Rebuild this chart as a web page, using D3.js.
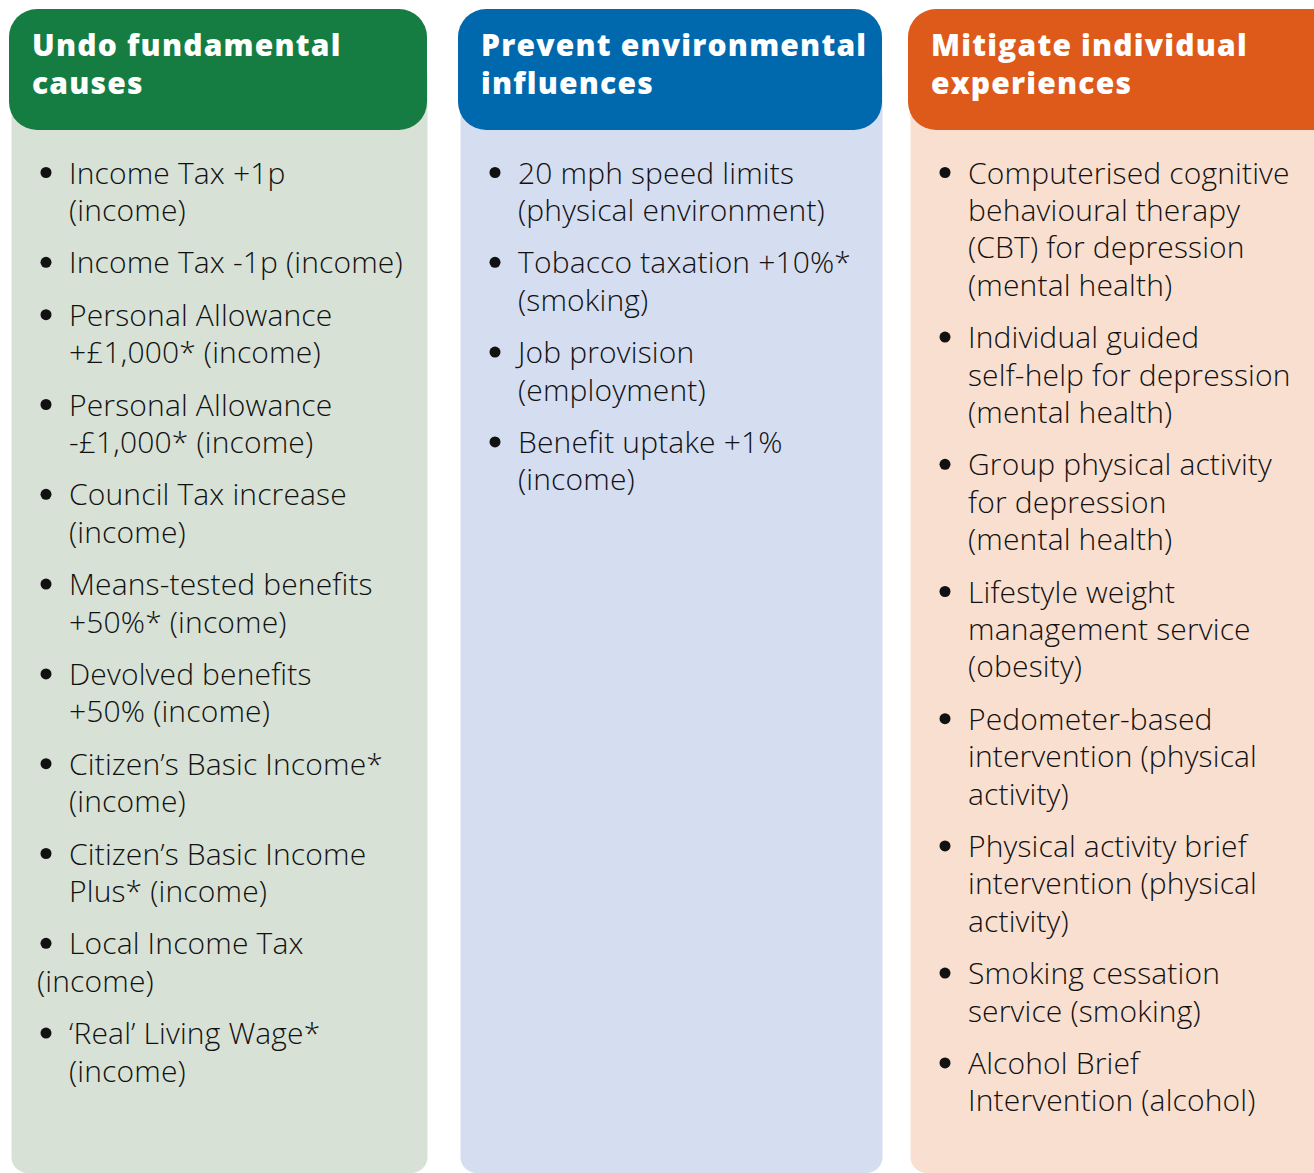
<!DOCTYPE html>
<html>
<head>
<meta charset="utf-8">
<script src="https://cdn.jsdelivr.net/npm/d3@7"></script>
<style>
  html, body { margin: 0; padding: 0; background: #fff; }
  svg { display: block; }
  .head { font-family: "Open Sans", sans-serif; font-weight: 800; fill: #fff; font-size: 30px; letter-spacing: 1.2px; }
  .item { font-family: "Open Sans", sans-serif; font-weight: 300; fill: #111; font-size: 30px; letter-spacing: 0.15px; }
</style>
</head>
<body>
<div id="chart"></div>
<script>
(function (d3) {
    'use strict';

    // Column titles (already wrapped as in the source)
    var titles = [
        ['Undo fundamental', 'causes'],
        ['Prevent environmental', 'influences'],
        ['Mitigate individual', 'experiences']
    ];

    var headColors = ['#167d42', '#0069ad', '#dd5a1a'];
    var bodyColors = ['#d7e1d6', '#d5ddf0', '#f9dfcf'];

    // Each item is a list of wrapped lines; "flush" lines start at the bullet edge
    var fundamental = [
        ['Income Tax +1p', '(income)'],
        ['Income Tax -1p (income)'],
        ['Personal Allowance', '+£1,000* (income)'],
        ['Personal Allowance', '-£1,000* (income)'],
        ['Council Tax increase', '(income)'],
        ['Means-tested benefits', '+50%* (income)'],
        ['Devolved benefits', '+50% (income)'],
        ['Citizen’s Basic Income*', '(income)'],
        ['Citizen’s Basic Income', 'Plus* (income)'],
        ['Local Income Tax', {flush: '(income)'}],
        ['‘Real’ Living Wage*', '(income)']
    ];

    var environmental = [
        ['20 mph speed limits', '(physical environment)'],
        ['Tobacco taxation +10%*', '(smoking)'],
        ['Job provision', '(employment)'],
        ['Benefit uptake +1%', '(income)']
    ];

    var individual = [
        ['Computerised cognitive', 'behavioural therapy', '(CBT) for depression', '(mental health)'],
        ['Individual guided', 'self-help for depression', '(mental health)'],
        ['Group physical activity', 'for depression', '(mental health)'],
        ['Lifestyle weight', 'management service', '(obesity)'],
        ['Pedometer-based', 'intervention (physical', 'activity)'],
        ['Physical activity brief', 'intervention (physical', 'activity)'],
        ['Smoking cessation', 'service (smoking)'],
        ['Alcohol Brief', 'Intervention (alcohol)']
    ];

    var columns = [fundamental, environmental, individual];

    var width = 1314, height = 1173;

    var svg = d3.select('#chart').append('svg')
        .attr('width', width)
        .attr('height', height)
    ;

    // Column frames: left edge of header and its width
    var frames = [
        {x: 9, w: 418},
        {x: 458, w: 424},
        {x: 908, w: 440}
    ];

    var lineStep = 37.4;
    var itemGap = 52.4;
    var firstBaseline = 183.5;

    frames.forEach(function (f, ci) {
        var g = svg.append('g').attr('transform', translate(f.x, 0));

        // body panel
        g.append('rect')
            .attr('x', 2.5)
            .attr('y', 60)
            .attr('width', f.w - 2)
            .attr('height', height - 60)
            .attr('rx', 16)
            .attr('fill', bodyColors[ci])
        ;

        // header
        g.append('rect')
            .attr('x', 0)
            .attr('y', 9)
            .attr('width', f.w)
            .attr('height', 121)
            .attr('rx', 28)
            .attr('fill', headColors[ci])
        ;

        g.selectAll('.head')
            .data(titles[ci])
            .enter()
            .append('text')
            .attr('class', 'head')
            .attr('x', 23)
            .attr('y', function (d, i) { return 56 + i * 37.5; })
            .text(function (d) { return d; })
        ;

        // list items
        var y = firstBaseline;
        columns[ci].forEach(function (lines) {
            var item = g.append('g');
            item.append('circle')
                .attr('cx', 37)
                .attr('cy', y - 11)
                .attr('r', 5.5)
                .attr('fill', '#111')
            ;
            lines.forEach(function (line, li) {
                var flush = typeof line === 'object';
                item.append('text')
                    .attr('class', 'item')
                    .attr('x', flush ? 28 : 60)
                    .attr('y', y + li * lineStep)
                    .text(flush ? line.flush : line)
                ;
            });
            y += (lines.length - 1) * lineStep + itemGap;
        });
    });

    function translate(x, y) {
        return 'translate(' + x + ', ' + y + ')';
    }

})(d3);
</script>
</body>
</html>
